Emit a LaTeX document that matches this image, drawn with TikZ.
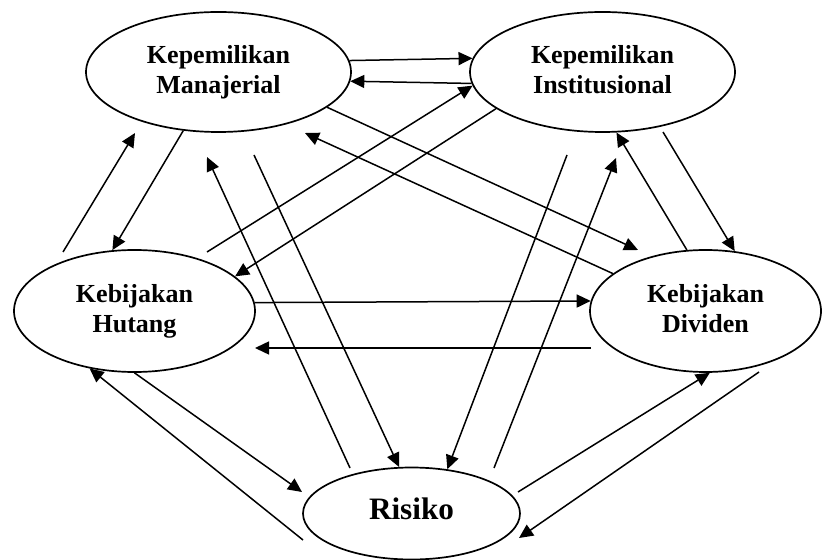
\documentclass[tikz,border=0pt]{standalone}
\usepackage{fontspec}
\setmainfont{Liberation Serif}
\usetikzlibrary{shapes.geometric,arrows.meta}
\begin{document}
\begin{tikzpicture}[x=0.5pt,y=-0.5pt,
  ell/.style={draw, ellipse, line width=0.85pt, inner sep=0pt, align=center,
    font=\bfseries\fontsize{13}{15}\selectfont},
  arr/.style={line width=0.75pt, -{Triangle[length=7pt,width=6.5pt]}}]
\useasboundingbox[fill=white] (0,0) rectangle (822,560);
% nodes
\node[ell, minimum width=132.5pt, minimum height=60pt] (km) at (218.5,72) {Kepemilikan\\Manajerial};
\node[ell, minimum width=132.5pt, minimum height=60pt] (ki) at (602.5,72) {Kepemilikan\\Institusional\vphantom{j}};
\node[ell, minimum width=120.5pt, minimum height=61pt] (kh) at (134.5,311) {Kebijakan\\Hutang};
\node[ell, minimum width=115.5pt, minimum height=61pt] (kd) at (705.5,311) {Kebijakan\\Dividen\vphantom{g}};
\node[ell, minimum width=108.5pt, minimum height=46pt, font=\bfseries\fontsize{15.6}{18}\selectfont, text depth=4.4pt] (r) at (411.5,513.5) {Risiko};
% free ends
\coordinate (c3s) at (207,252);
\coordinate (c5e) at (638,250);
\coordinate (c6e) at (305,133);
\coordinate (c7s) at (63,252);
\coordinate (c7e) at (135,133);
\coordinate (c9s) at (350,468);
\coordinate (c9e) at (207,157);
\coordinate (c10s) at (254,155);
\coordinate (c12s) at (591,348);
\coordinate (c12e) at (255,348);
\coordinate (c13s) at (567,155);
\coordinate (c14s) at (494,468);
\coordinate (c14e) at (616,158);
\coordinate (c16s) at (663,132);
\coordinate (c17s) at (518,492);
\coordinate (c18s) at (759,372);
\coordinate (c18e) at (519,538);
\coordinate (c19e) at (302,492);
\coordinate (c20s) at (303,540);
% connectors
\draw[arr] (km.5.3) -- (ki.174.7);
\draw[arr] (ki.-175.2) -- (km.-4.8);
\draw[arr] (c3s) -- (ki.-174.3);
\draw[arr] (ki.-161.65) -- (kh.19);
\draw[arr] (km.-18.2) -- (c5e);
\draw[arr] (kd.158.5) -- (c6e);
\draw[arr] (c7s) -- (c7e);
\draw[arr] (km.-121.6) -- (kh.110.6);
\draw[arr] (c9s) -- (c9e);
\draw[arr] (c10s) -- (r.105.3);
\draw[arr] (kh.4.8) -- (kd.175);
\draw[arr] (c12s) -- (c12e);
\draw[arr] (c13s) -- (r.51.6);
\draw[arr] (c14s) -- (c14e);
\draw[arr] (kd.107.1) -- (ki.-77.3);
\draw[arr] (c16s) -- (kd.64.3);
\draw[arr] (c17s) -- (kd.-86.7);
\draw[arr] (c18s) -- (c18e);
\draw[arr] (kh.-90) -- (c19e);
\draw[arr] (c20s) -- (kh.-128.1);
\end{tikzpicture}
\end{document}
